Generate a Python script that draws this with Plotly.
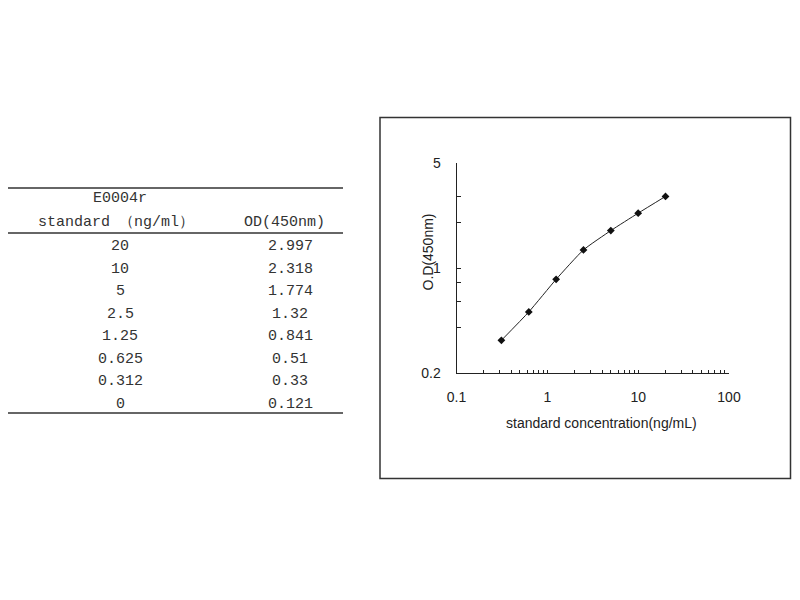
import plotly.graph_objects as go

# standard curve data (E0004r)
concentration = [20, 10, 5, 2.5, 1.25, 0.625, 0.312, 0]
conc_labels = ["20", "10", "5", "2.5", "1.25", "0.625", "0.312", "0"]
od_450 = [2.997, 2.318, 1.774, 1.32, 0.841, 0.51, 0.33, 0.121]
od_labels = ["2.997", "2.318", "1.774", "1.32", "0.841", "0.51", "0.33", "0.121"]

x_major = [0.1, 1, 10, 100]
x_major_labels = ["0.1", "1", "10", "100"]
y_tick_vals = [0.2, 0.4, 0.6, 0.8, 1, 2, 3, 5]
y_tick_labels = ["0.2", "", "", "", "1", "", "", "5"]

# page is drawn with an 8px body margin, so the figure is a bit smaller
OFF = 8
W, H = 800 - 2 * OFF, 600 - 2 * OFF


def px(x):
    return (x - OFF) / W


def py(y):
    return 1 - (y - OFF) / H


# only positive concentrations go on the log plot
pts = sorted([(c, o) for c, o in zip(concentration, od_450) if c > 0])
xs = [p[0] for p in pts]
ys = [p[1] for p in pts]

# x ticks: every digit of each decade, label on decades only
x_tick_vals = []
x_tick_text = []
for i, d in enumerate(x_major[:-1]):
    for m in range(1, 10):
        x_tick_vals.append(d * m)
        x_tick_text.append(x_major_labels[i] if m == 1 else "")
x_tick_vals.append(x_major[-1])
x_tick_text.append(x_major_labels[-1])

fig = go.Figure()
fig.add_trace(go.Scatter(
    x=xs, y=ys, mode="lines+markers",
    line=dict(color="#222222", width=1, shape="spline", smoothing=0.5),
    marker=dict(symbol="diamond", size=6, color="#111111"),
    hoverinfo="x+y", showlegend=False))

axis_font = dict(family="Liberation Sans, Arial, sans-serif", size=14, color="#222222")

fig.update_xaxes(
    type="log", range=[-1, 2], domain=[px(456.5), px(729)],
    tickvals=x_tick_vals, ticktext=x_tick_text,
    ticks="inside", ticklen=3, tickcolor="#222222", tickwidth=1,
    showline=True, linecolor="#222222", linewidth=1,
    showgrid=False, zeroline=False, tickfont=axis_font,
    ticklabelstandoff=11, anchor="y")
fig.update_yaxes(
    type="log", range=[-0.69897, 0.69897], domain=[py(373), py(163)],
    tickvals=y_tick_vals, ticktext=y_tick_labels,
    ticks="inside", ticklen=4, tickcolor="#222222", tickwidth=1,
    showline=True, linecolor="#222222", linewidth=1,
    showgrid=False, zeroline=False, tickfont=axis_font,
    ticklabelstandoff=12, anchor="x")


def note(x, y, text, font, **kw):
    return dict(x=px(x), y=py(y), xref="paper", yref="paper", text=text,
                showarrow=False, font=font, xanchor="center", yanchor="middle", **kw)


annotations = [
    note(601, 423, "standard concentration(ng/mL)", axis_font),
    note(427.5, 252, "O.D(450nm)", axis_font, textangle=-90),
]

# table on the left
table_font = dict(family="Liberation Mono, Courier New, monospace", size=15, color="#333333")
annotations.append(note(120, 198, "E0004r", table_font))
annotations.append(note(116, 223, "standard （ng/ml）", table_font))
annotations.append(note(284, 223, "OD(450nm)", table_font))
for i, (c, o) in enumerate(zip(conc_labels, od_labels)):
    row_y = 246.5 + i * 22.5
    annotations.append(note(120, row_y, c, table_font))
    annotations.append(note(290, row_y, o, table_font))

shapes = []
for ly in [188, 233, 413]:
    shapes.append(dict(type="line", xref="paper", yref="paper",
                       x0=0, x1=px(343), y0=py(ly), y1=py(ly),
                       line=dict(color="#333333", width=1.5)))
# frame around the chart (right edge kept inside the figure)
shapes.append(dict(type="rect", xref="paper", yref="paper",
                   x0=px(380), x1=px(790.5), y0=py(478.5), y1=py(117.5),
                   line=dict(color="#333333", width=1.5)))

fig.update_layout(
    width=W, height=H,
    margin=dict(l=0, r=0, t=0, b=0, autoexpand=False),
    paper_bgcolor="white", plot_bgcolor="white",
    annotations=annotations, shapes=shapes)

fig.write_html("out.html")
